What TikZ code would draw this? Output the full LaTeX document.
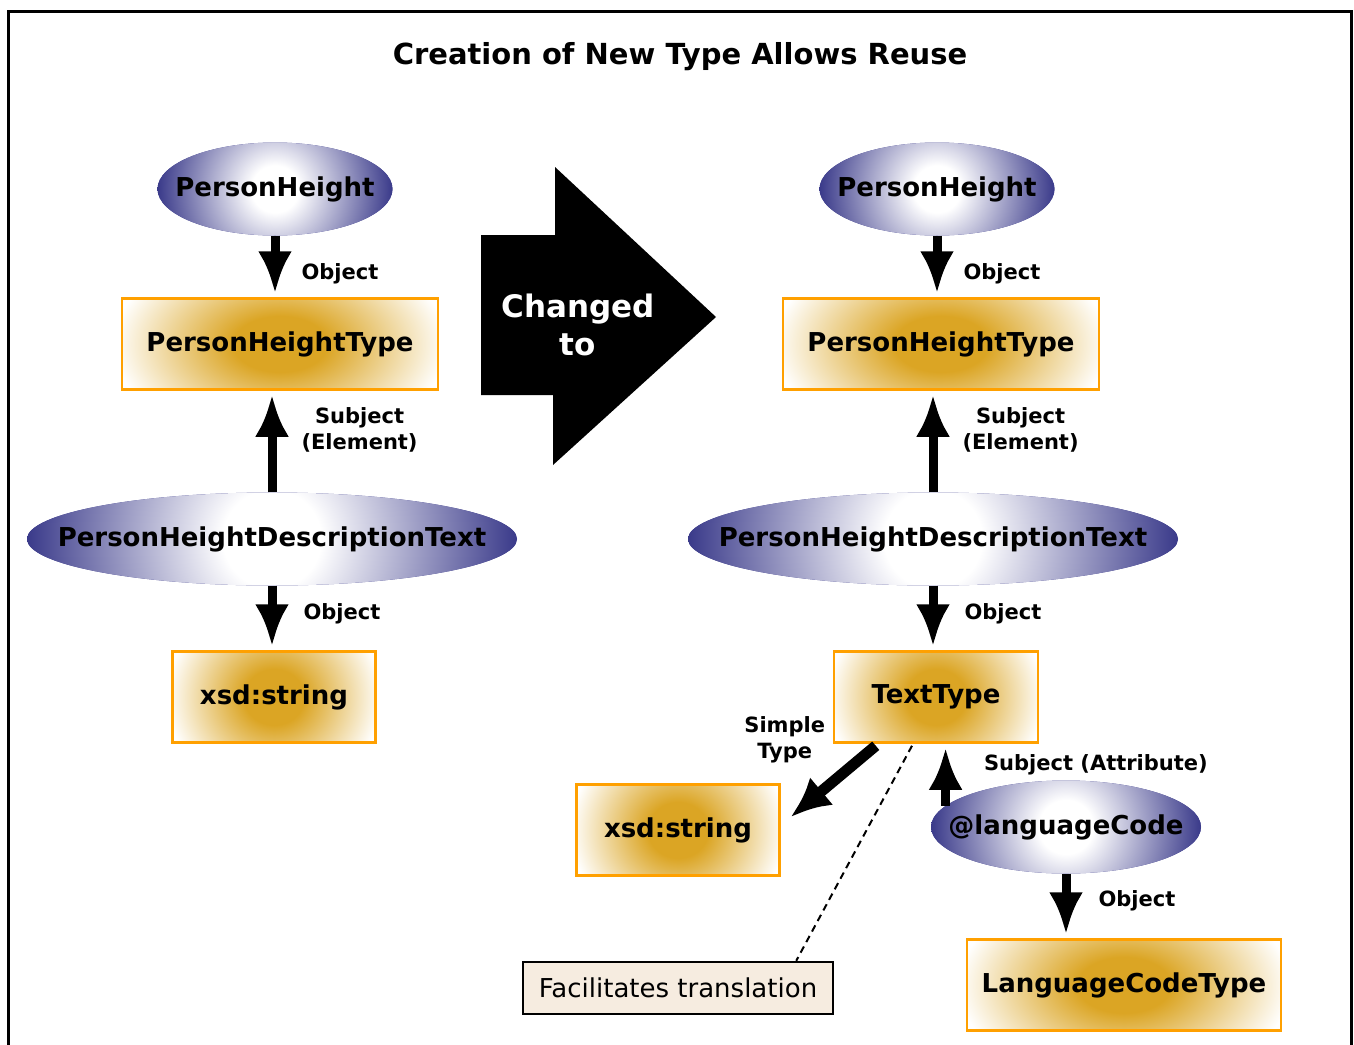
\documentclass[tikz,border=0pt]{standalone}
\usepackage{fontspec}
\setmainfont{DejaVu Sans}
\usetikzlibrary{arrows.meta}
\usetikzlibrary{positioning}
\usetikzlibrary{shapes.geometric}
\usetikzlibrary{calc}

\definecolor{ellblue}{RGB}{58,58,138}
\definecolor{boxgold}{RGB}{219,165,36}
\definecolor{boxline}{RGB}{255,160,0}
\definecolor{notefill}{RGB}{246,236,224}

\pgfdeclareradialshading{ellshade}{\pgfpoint{0bp}{0bp}}{color(0bp)=(white); color(5bp)=(white); color(25bp)=(ellblue); color(50bp)=(ellblue)}
\pgfdeclareradialshading{boxshade}{\pgfpoint{0bp}{0bp}}{color(0bp)=(boxgold); color(7bp)=(boxgold); color(25bp)=(white); color(50bp)=(white)}

\newcommand{\titlefont}{\fontsize{29}{34}\selectfont\bfseries}
\newcommand{\boxfont}{\fontsize{26}{30}\selectfont\bfseries}
\newcommand{\lblfont}{\fontsize{21}{26}\selectfont\bfseries}
\newcommand{\notefont}{\fontsize{26}{30}\selectfont}
\newcommand{\bigfont}{\fontsize{31}{38}\selectfont\bfseries}

\begin{document}
\begin{tikzpicture}[x=1pt, y=-1pt,
    ellnode/.style = {ellipse, minimum width=#1, minimum height=93pt,
                      inner xsep=-260pt, inner ysep=0pt, font=\boxfont, fill=ellblue,
                      path picture={\shade[shading=ellshade]
                        (path picture bounding box.center) circle (#1/2);}},
    typebox/.style = {rectangle, minimum width=#1, minimum height=91pt,
                      inner sep=0pt, font=\boxfont, draw=boxline,
                      line width=2.5pt, fill=white,
                      path picture={\shade[shading=boxshade]
                        (path picture bounding box.center)
                        ellipse [x radius=0.53*#1, y radius=100pt];}},
    notebox/.style = {rectangle, minimum width=310pt, minimum height=52pt,
                      inner sep=0pt, font=\notefont, draw=black,
                      line width=2.5pt, fill=notefill},
    lbl/.style = {font=\lblfont, align=center, inner sep=0pt},
    arr/.style = {line width=9pt, -{Latex[length=42pt,width=34pt]},
                  shorten >=4pt},
    diagarr/.style = {line width=11pt, -{Latex[length=40pt,width=36pt]}},
    noteline/.style = {line width=2pt, dash pattern=on 7pt off 5pt}]
  \useasboundingbox (0,0) rectangle (1354,1044);
  \draw[line width=3pt] (8,11) rectangle (1351,1070);

  \node (ttl) [font=\titlefont] at (680,57) {Creation of New Type Allows Reuse};

  % before
  \node (ph1) [ellnode=235pt] at (275,189) {PersonHeight};
  \node (pht1) [typebox=316pt] at (280,344) {PersonHeightType};
  \node (phd1) [ellnode=490pt] at (272,539) {PersonHeightDescriptionText};
  \node (xs1) [typebox=203pt] at (274,697) {xsd:string};

  \path[arr]
    (ph1.south) edge node[lbl, right=22pt, yshift=-7pt] (o1) {Object}
      (ph1.south |- pht1.north)
    (phd1.north) edge node[lbl, right=25pt, yshift=12pt] (s1) {Subject\\(Element)}
      (phd1.north |- pht1.south)
    (phd1.south) edge node[lbl, right=27pt, yshift=4pt] (o2) {Object}
      (phd1.south |- xs1.north);

  % changed to
  \fill (481,235) -- (555,235) -- (555,167) -- (716,317)
    -- (553,465) -- (553,395) -- (481,395) -- cycle;
  \node (chg) [font=\bigfont, text=white, align=center] at (578,325) {Changed\\to};

  % after
  \node (ph2) [ellnode=235pt] at (937,189) {PersonHeight};
  \node (pht2) [typebox=316pt] at (941,344) {PersonHeightType};
  \node (phd2) [ellnode=490pt] at (933,539) {PersonHeightDescriptionText};
  \node (tt) [typebox=204pt] at (936,697) {TextType};
  \node (xs2) [typebox=203pt] at (678,830) {xsd:string};
  \node (lc) [ellnode=270pt] at (1066,827) {@languageCode};
  \node (lct) [typebox=314pt] at (1124,985) {LanguageCodeType};
  \node (fac) [notebox] at (678,988) {Facilitates translation};
  \node (st) [lbl] at ($(tt.south west)+(-48,-4)$) {Simple\\Type};

  \path[arr]
    (ph2.south) edge node[lbl, right=22pt, yshift=-7pt] (o3) {Object}
      (ph2.south |- pht2.north)
    (phd2.north) edge node[lbl, right=25pt, yshift=12pt] (s2) {Subject\\(Element)}
      (phd2.north |- pht2.south)
    (phd2.south) edge node[lbl, right=27pt, yshift=4pt] (o4) {Object}
      (phd2.south |- tt.north)
    (lc.170) edge node[lbl, anchor=west, xshift=34pt, yshift=10pt] (s3) {Subject (Attribute)}
      (lc.170 |- tt.south)
    (lc.south) edge node[lbl, right=28pt, yshift=5pt] (o5) {Object}
      (lc.south |- lct.north);

  \draw[diagarr] ($(tt.south west)+(43,2)$) -- ($(xs2.east)+(10,-13)$);
  \draw[noteline] ($(tt.south)+(-24,2)$) -- ($(fac.north east)+(-38,0)$);
\end{tikzpicture}
\end{document}
